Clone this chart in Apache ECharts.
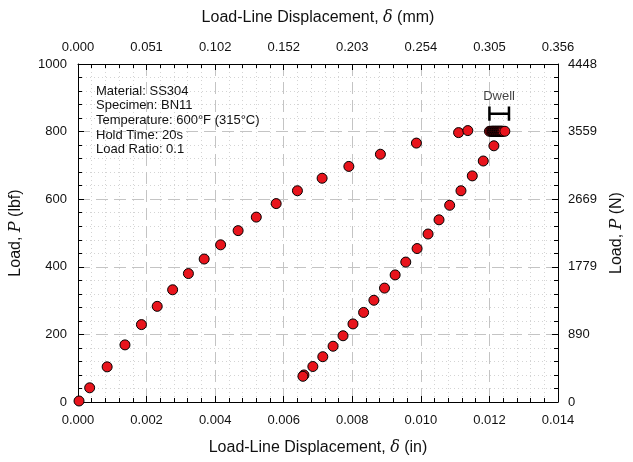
<!DOCTYPE html>
<html>
<head>
<meta charset="utf-8">
<script src="https://cdn.jsdelivr.net/npm/echarts@6/dist/echarts.min.js"></script>
<style>html,body{margin:0;padding:0;background:#fff;}#c{width:633px;height:462px;}</style>
</head>
<body>
<div id="c"></div>
<script>
// ---- data ----
var loadX = [0.00003,0.00034,0.00085,0.00137,0.00185,0.00231,0.00276,0.00322,0.00368,0.00416,0.00467,0.0052,0.00578,0.0064,0.00712,0.0079,0.00882,0.00987,0.0111,0.01137,0.0120];
var loadY = [3,42,104,169,229,283,332,380,423,465,507,547,587,625,662,697,733,766,797,803,801];
var dwellX = [0.01204,0.01207,0.01209,0.01211,0.01213,0.01215,0.01217,0.01219,0.01221,0.01223,0.01225,0.01227,0.01229,0.01231,0.01233,0.01235,0.01237,0.0124,0.01245];
var dwellY = [801,801,801,801,801,801,801,801,801,801,801,801,801,801,801,801,801,801,801];
var unloadX = [0.01213,0.01182,0.0115,0.01117,0.01084,0.01053,0.01021,0.00989,0.00956,0.00925,0.00894,0.00863,0.00833,0.00802,0.00773,0.00744,0.00714,0.00685,0.00659,0.00656];
var unloadY = [758,713,669,625,582,539,497,454,414,376,337,301,265,231,196,165,134,105,80,76];

var bottomTickLabels = ['0.000','0.002','0.004','0.006','0.008','0.010','0.012','0.014'];
var topTickLabels = ['0.000','0.051','0.102','0.152','0.203','0.254','0.305','0.356'];
var leftTickLabels = ['0','200','400','600','800','1000'];
var rightTickLabels = ['0','890','1779','2669','3559','4448'];

var infoLines = ['Material: SS304','Specimen: BN11','Temperature: 600\u00b0F (315\u00b0C)','Hold Time: 20s','Load Ratio: 0.1'];

// Dwell bracket (data coordinates)
var bracketX = [0.0120, 0.01257];
var bracketY = [832, 853, 874];
var dwellLabelPos = [0.01228, 904];

function zip(xs, ys){ var o=[]; for(var i=0;i<xs.length;i++){o.push([xs[i],ys[i]]);} return o; }

var FONT = 'Liberation Sans, Arial, sans-serif';
var XMIN=0, XMAX=0.014, XINT=0.002, YMIN=0, YMAX=1000, YINT=200;

function idxLabel(arr, v, step){ var i=Math.round(v/step); return arr[i]!==undefined?arr[i]:''; }

var nameRich = {
  a:{fontSize:16, fontFamily:FONT, color:'#111'},
  b:{fontSize:16, fontFamily:'DejaVu Serif, Liberation Serif, serif', fontStyle:'italic', color:'#111'}
};

var axisLineStyle = {show:true, onZero:false, lineStyle:{color:'#000', width:1}};
var tickStyle = {show:true, inside:true, length:6, lineStyle:{color:'#000', width:1}};
var minorTickStyle = {show:true, splitNumber:5, length:4, lineStyle:{color:'#000', width:1}};

var chart = echarts.init(document.getElementById('c'), null, {renderer:'canvas'});
var markerStyle = {color:'#e8141c', borderColor:'#000', borderWidth:1, opacity:1};

chart.setOption({
  animation:false,
  backgroundColor:'#fff',
  grid:{left:78, right:70, top:64, bottom:60, containLabel:false},
  xAxis:[{
    type:'value', position:'bottom', min:XMIN, max:XMAX, interval:XINT,
    axisLine:axisLineStyle, axisTick:tickStyle, minorTick:minorTickStyle,
    axisLabel:{fontSize:13, fontFamily:FONT, color:'#111', margin:12, formatter:function(v){return idxLabel(bottomTickLabels,v,XINT);}},
    splitLine:{show:true, lineStyle:{color:'#c4c4c4', width:1, type:[12,6]}},
    minorSplitLine:{show:true, lineStyle:{color:'#d4d4d4', width:1, type:[1,3]}},
    name:'{a|Load-Line Displacement, }{b|\u03b4}{a| (in)}', nameLocation:'middle', nameGap:38,
    nameTextStyle:{rich:nameRich}
  },{
    type:'value', position:'top', min:XMIN, max:XMAX, interval:XINT,
    axisLine:axisLineStyle, axisTick:tickStyle, minorTick:minorTickStyle,
    axisLabel:{fontSize:13, fontFamily:FONT, color:'#111', margin:10, formatter:function(v){return idxLabel(topTickLabels,v,XINT);}},
    splitLine:{show:false}, minorSplitLine:{show:false},
    name:'{a|Load-Line Displacement, }{b|\u03b4}{a| (mm)}', nameLocation:'middle', nameGap:38,
    nameTextStyle:{rich:nameRich}
  }],
  yAxis:[{
    type:'value', position:'left', min:YMIN, max:YMAX, interval:YINT,
    axisLine:axisLineStyle, axisTick:tickStyle, minorTick:minorTickStyle,
    axisLabel:{fontSize:13, fontFamily:FONT, color:'#111', margin:11, formatter:function(v){return idxLabel(leftTickLabels,v,YINT);}},
    splitLine:{show:true, lineStyle:{color:'#c4c4c4', width:1, type:[12,6]}},
    minorSplitLine:{show:true, lineStyle:{color:'#d4d4d4', width:1, type:[1,3]}},
    name:'{a|Load, }{b|P}{a| (lbf)}', nameLocation:'middle', nameGap:54, nameRotate:90,
    nameTextStyle:{rich:nameRich}
  },{
    type:'value', position:'right', min:YMIN, max:YMAX, interval:YINT,
    axisLine:axisLineStyle, axisTick:tickStyle, minorTick:minorTickStyle,
    axisLabel:{fontSize:13, fontFamily:FONT, color:'#111', margin:10, formatter:function(v){return idxLabel(rightTickLabels,v,YINT);}},
    splitLine:{show:false}, minorSplitLine:{show:false},
    name:'{a|Load, }{b|P}{a| (N)}', nameLocation:'middle', nameGap:51, nameRotate:90,
    nameTextStyle:{rich:nameRich}
  }],
  graphic:[{
    type:'text', left:96, top:84, z:100,
    style:{text:infoLines.join('\n'), font:'13px '+FONT, fill:'#111', lineHeight:14.6}
  }],
  series:[
    {type:'scatter', name:'loading', xAxisIndex:0, yAxisIndex:0, symbol:'circle', symbolSize:10, itemStyle:markerStyle, data:zip(loadX,loadY), z:3},
    {type:'scatter', name:'dwell', xAxisIndex:0, yAxisIndex:0, symbol:'circle', symbolSize:10, itemStyle:markerStyle, data:zip(dwellX,dwellY), z:3},
    {type:'scatter', name:'unloading', xAxisIndex:0, yAxisIndex:0, symbol:'circle', symbolSize:10, itemStyle:markerStyle, data:zip(unloadX,unloadY), z:3},
    {type:'line', name:'bracketL', xAxisIndex:0, yAxisIndex:0, symbol:'none', lineStyle:{color:'#000', width:2.5}, data:[[bracketX[0],bracketY[0]],[bracketX[0],bracketY[2]]], z:4},
    {type:'line', name:'bracketR', xAxisIndex:0, yAxisIndex:0, symbol:'none', lineStyle:{color:'#000', width:2.5}, data:[[bracketX[1],bracketY[0]],[bracketX[1],bracketY[2]]], z:4},
    {type:'line', name:'bracketH', xAxisIndex:0, yAxisIndex:0, symbol:'none', lineStyle:{color:'#000', width:2.5}, data:[[bracketX[0],bracketY[1]],[bracketX[1],bracketY[1]]], z:4},
    {type:'scatter', name:'dwellLabel', xAxisIndex:0, yAxisIndex:0, symbolSize:0, data:[dwellLabelPos], z:5,
     label:{show:true, position:'inside', formatter:'Dwell', fontSize:13, fontFamily:FONT, color:'#111'}}
  ]
});
</script>
</body>
</html>
